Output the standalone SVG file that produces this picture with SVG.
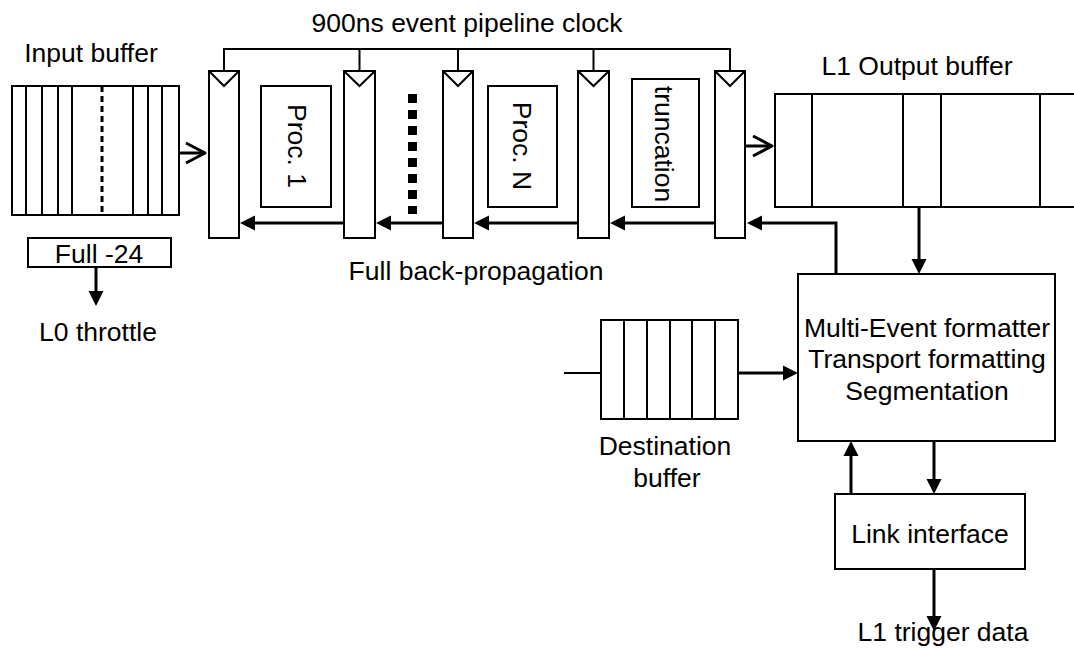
<svg xmlns="http://www.w3.org/2000/svg" width="1074" height="648" viewBox="0 0 1074 648">
<style>
.box{fill:#fff;stroke:#000;stroke-width:2}
.ln{fill:none;stroke:#000;stroke-width:2}
.thk{fill:none;stroke:#000;stroke-width:3}
.t{font-family:"Liberation Sans",Arial,sans-serif;font-size:26.5px;fill:#000;text-anchor:middle}
</style>
<defs>
<marker id="fa" markerUnits="userSpaceOnUse" markerWidth="16" markerHeight="16" refX="5" refY="7.5" orient="auto" overflow="visible">
<path d="M0,0 L15,7.5 L0,15 Z" fill="#000"/>
</marker>
<marker id="oa" markerUnits="userSpaceOnUse" markerWidth="22" markerHeight="22" refX="19" refY="10" orient="auto" overflow="visible">
<path d="M0,0 L19,10 L0,20" fill="none" stroke="#000" stroke-width="3" stroke-linejoin="round"/>
</marker>
</defs>
<rect width="1074" height="648" fill="#fff"/>

<g id="labels">
<text class="t" x="467" y="32">900ns event pipeline clock</text>
<text class="t" x="91" y="62">Input buffer</text>
<text class="t" x="917" y="75">L1 Output buffer</text>
<text class="t" x="476" y="280">Full back-propagation</text>
<text class="t" x="98" y="341">L0 throttle</text>
<text class="t" x="943" y="641">L1 trigger data</text>
</g>

<g id="input-buffer">
<rect class="box" x="12" y="86" width="167" height="129"/>
<path class="ln" d="M26,86V215M42,86V215M58,86V215M72,86V215M133,86V215M148,86V215M162,86V215"/>
<path d="M102,86V215" stroke="#000" stroke-width="3" stroke-dasharray="6 4" fill="none"/>
</g>

<g id="full-24">
<rect class="box" x="28" y="238" width="143" height="29"/>
<text class="t" x="99" y="263">Full -24</text>
</g>

<g id="reg1">
<rect class="box" x="209" y="71" width="30" height="167"/>
<path class="ln" d="M209,71 L224,86 L239,71"/>
</g>
<g id="reg2">
<rect class="box" x="344" y="71" width="31" height="167"/>
<path class="ln" d="M344,71 L359.5,86 L375,71"/>
</g>
<g id="reg3">
<rect class="box" x="443" y="71" width="30" height="167"/>
<path class="ln" d="M443,71 L458,86 L473,71"/>
</g>
<g id="reg4">
<rect class="box" x="578" y="71" width="31" height="167"/>
<path class="ln" d="M578,71 L593.5,86 L609,71"/>
</g>
<g id="reg5">
<rect class="box" x="715" y="71" width="30" height="167"/>
<path class="ln" d="M715,71 L730,86 L745,71"/>
</g>

<g id="proc1">
<rect class="box" x="261" y="86" width="70" height="121"/>
<text class="t" transform="translate(288,146) rotate(90)">Proc. 1</text>
</g>
<g id="ellipsis">
<path d="M412.5,94V214" stroke="#000" stroke-width="9" stroke-dasharray="9 7" fill="none"/>
</g>
<g id="procN">
<rect class="box" x="488" y="86" width="69" height="121"/>
<text class="t" transform="translate(513,146) rotate(90)">Proc. N</text>
</g>
<g id="truncation">
<rect class="box" x="632" y="79" width="67" height="128"/>
<text class="t" transform="translate(655,144) rotate(90)">truncation</text>
</g>

<g id="l1-output-buffer">
<path class="ln" d="M1080,94 H775 V207 H1080"/>
<path class="ln" d="M812,94V207M903,94V207M941,94V207M1040,94V207"/>
</g>

<g id="destination-buffer">
<rect class="box" x="601" y="320" width="137" height="99"/>
<path class="ln" d="M624,320V419M647,320V419M670,320V419M692,320V419M715,320V419"/>
<text class="t" x="665" y="455">Destination</text>
<text class="t" x="667" y="487">buffer</text>
</g>

<g id="mef">
<rect class="box" x="798" y="274" width="257" height="167"/>
<text class="t" x="927" y="337">Multi-Event formatter</text>
<text class="t" x="927" y="368">Transport formatting</text>
<text class="t" x="927" y="400">Segmentation</text>
</g>

<g id="link-interface">
<rect class="box" x="835" y="494" width="190" height="75"/>
<text class="t" x="930" y="543">Link interface</text>
</g>

<g id="connectors">
<path class="ln" d="M224,71V49H730V71M359.5,49V71M458,49V71M593.5,49V71"/>
<path class="thk" d="M179,153H205" marker-end="url(#oa)"/>
<path class="thk" d="M746,146H772" marker-end="url(#oa)"/>
<path class="thk" d="M715,223H620" marker-end="url(#fa)"/>
<path class="thk" d="M578,223H484" marker-end="url(#fa)"/>
<path class="thk" d="M443,223H386" marker-end="url(#fa)"/>
<path class="thk" d="M344,223H250" marker-end="url(#fa)"/>
<path class="thk" d="M836,274V223H757" marker-end="url(#fa)"/>
<path class="thk" d="M919,207V264" marker-end="url(#fa)"/>
<path class="thk" d="M934,441V484" marker-end="url(#fa)"/>
<path class="thk" d="M851,494V451" marker-end="url(#fa)"/>
<path class="thk" d="M934,569V621" marker-end="url(#fa)"/>
<path class="thk" d="M96,267V296" marker-end="url(#fa)"/>
<path class="ln" d="M564,373H601"/>
<path class="thk" d="M738,373H788" marker-end="url(#fa)"/>
</g>
</svg>
